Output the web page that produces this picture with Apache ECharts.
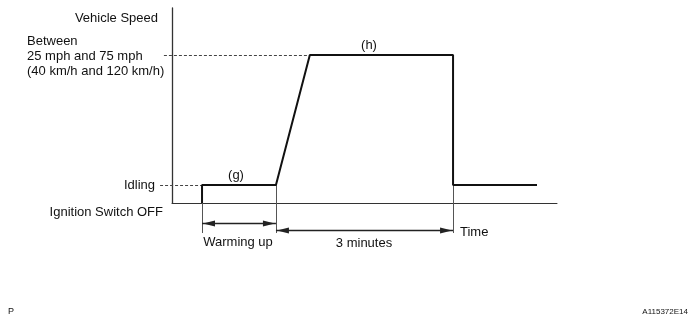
<!DOCTYPE html>
<html>
<head>
<meta charset="utf-8">
<script src="https://cdn.jsdelivr.net/npm/echarts@6/dist/echarts.min.js"></script>
<style>html,body{margin:0;padding:0;background:#fff}#c{width:694px;height:326px}</style>
</head>
<body>
<div id="c"></div>
<script>
// Time axis (arbitrary units 0..100) and speed axis (arbitrary units 0..100)
const speedProfileX = [7.8, 7.8, 27.0, 35.8, 73.0, 73.0, 94.8];
const speedProfileY = [0, 9.2, 9.2, 75.9, 75.9, 9.2, 9.2];
// dashed guides: [xFrom, xTo, level]
const guideLines = [[-3.1, 7.8, 9.2], [-2.1, 35.8, 75.9]];
// extension lines: [x, yFrom, yTo]
const extensionLines = [[7.8, 0, -15.4], [27.0, 9.2, -15.4], [73.0, 9.2, -15.4]];
// dimension arrows: [xFrom, xTo, y]
const dimensionArrows = [[7.8, 27.0, -10.3], [27.0, 73.0, -13.8]];
const labels = {
  yTitle: 'Vehicle Speed',
  target: 'Between\n25 mph and 75 mph\n(40 km/h and 120 km/h)',
  idle: 'Idling',
  off: 'Ignition Switch OFF',
  g: '(g)',
  h: '(h)',
  warm: 'Warming up',
  three: '3 minutes',
  time: 'Time',
  p: 'P',
  code: 'A115372E14'
};

const chart = echarts.init(document.getElementById('c'), null, {renderer: 'canvas'});
const FONT = '"Liberation Sans", Arial, sans-serif';
const txt = (x, y, text, align, size, extra) => Object.assign({
  type: 'text', x: x, y: y, silent: true,
  style: {text: text, fill: '#111', font: (size || 13) + 'px ' + FONT, textAlign: align || 'left', textVerticalAlign: 'middle', lineHeight: 15}
}, extra || {});

const option = {
  animation: false,
  backgroundColor: '#fff',
  grid: {left: 172, top: 8, width: 385, height: 195},
  xAxis: {type: 'value', min: 0, max: 100, axisLine: {show: true, onZero: false, lineStyle: {color: '#333', width: 1}}, axisTick: {show: false}, axisLabel: {show: false}, splitLine: {show: false}},
  yAxis: {type: 'value', min: 0, max: 100, axisLine: {show: true, onZero: false, lineStyle: {color: '#333', width: 1.3}}, axisTick: {show: false}, axisLabel: {show: false}, splitLine: {show: false}},
  series: [
    {type: 'custom', clip: false, silent: true, data: guideLines,
      renderItem: (params, api) => {
        const a = api.coord([api.value(0), api.value(2)]);
        const b = api.coord([api.value(1), api.value(2)]);
        const y = Math.round(a[1]) + 0.5;
        return {type: 'line', shape: {x1: a[0], y1: y, x2: b[0], y2: y}, style: {stroke: '#444', lineWidth: 1, lineDash: [3, 2]}};
      }},
    {type: 'custom', clip: false, silent: true, data: extensionLines,
      renderItem: (params, api) => {
        const a = api.coord([api.value(0), api.value(1)]);
        const b = api.coord([api.value(0), api.value(2)]);
        return {type: 'line', shape: {x1: Math.round(a[0]) + 0.5, y1: a[1], x2: Math.round(b[0]) + 0.5, y2: b[1]}, style: {stroke: '#555', lineWidth: 1}};
      }},
    {type: 'custom', clip: false, silent: true, data: dimensionArrows,
      renderItem: (params, api) => {
        const a = api.coord([api.value(0), api.value(2)]);
        const b = api.coord([api.value(1), api.value(2)]);
        const y = Math.round(a[1]) + 0.5;
        const L = 12, W = 3;
        return {type: 'group', children: [
          {type: 'line', shape: {x1: a[0], y1: y, x2: b[0], y2: y}, style: {stroke: '#222', lineWidth: 1.3}},
          {type: 'polygon', shape: {points: [[a[0] + 1, y], [a[0] + 1 + L, y - W], [a[0] + 1 + L, y + W]]}, style: {fill: '#222'}},
          {type: 'polygon', shape: {points: [[b[0] - 1, y], [b[0] - 1 - L, y - W], [b[0] - 1 - L, y + W]]}, style: {fill: '#222'}}
        ]};
      }},
    {type: 'line', clip: false, symbol: 'none', silent: true,
      data: speedProfileX.map((x, i) => [x, speedProfileY[i]]),
      lineStyle: {color: '#111', width: 2}}
  ],
  graphic: [
    txt(158, 18, labels.yTitle, 'right'),
    txt(27, 56, labels.target, 'left'),
    txt(155, 185, labels.idle, 'right'),
    txt(163, 212, labels.off, 'right'),
    txt(236, 175, labels.g, 'center'),
    txt(369, 45, labels.h, 'center'),
    txt(238, 242, labels.warm, 'center'),
    txt(364, 243, labels.three, 'center'),
    txt(460, 232, labels.time, 'left'),
    txt(8, 312, labels.p, 'left', 9),
    txt(688, 312, labels.code, 'right', 8)
  ]
};
chart.setOption(option);
</script>
</body>
</html>
